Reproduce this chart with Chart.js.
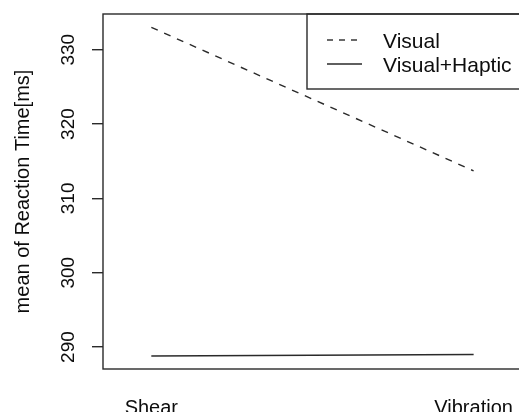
<!DOCTYPE html>
<html>
<head>
<meta charset="utf-8">
<script src="https://cdn.jsdelivr.net/npm/chart.js@4.4.1/dist/chart.umd.min.js"></script>
<style>
  html, body { margin: 0; padding: 0; background: #fff; overflow: hidden; }
  #wrap { width: 519px; height: 412px; overflow: hidden; position: relative; }
  canvas { position: absolute; left: 0; top: 0; }
</style>
</head>
<body>
<div id="wrap"><canvas id="rtChart" width="540" height="412"></canvas></div>
<script>
// data
const categories = ['Shear', 'Vibration'];
const categoryPos = [1, 2];
const visual = [333.0, 313.7];
const visualHaptic = [288.8, 289.0];
const yTicks = [290, 300, 310, 320, 330];
const seriesNames = ['Visual', 'Visual+Haptic'];

const ink = '#2a2a2a';
const textInk = '#0d0d0d';
const fontFamily = "'Liberation Sans', Arial, Helvetica, sans-serif";

const toPoints = (vals) => vals.map((v, i) => ({ x: categoryPos[i], y: v }));

// box around the plot + legend box, like base R
const boxPlugin = {
    id: 'rBox',
    afterDraw(chart) {
        const { ctx, chartArea } = chart;
        ctx.save();
        ctx.strokeStyle = ink;
        ctx.lineWidth = 1.4;
        ctx.strokeRect(chartArea.left, chartArea.top, chartArea.right - chartArea.left, chartArea.bottom - chartArea.top);

        // legend
        const lx = 307, ly = chartArea.top, lh = 75;
        ctx.strokeRect(lx, ly, 300, lh);
        const rows = [ly + 26, ly + 50];
        const dashes = [[6, 6], []];
        ctx.font = '21px ' + fontFamily;
        ctx.textBaseline = 'alphabetic';
        ctx.textAlign = 'left';
        rows.forEach((ry, i) => {
            ctx.beginPath();
            ctx.setLineDash(dashes[i]);
            ctx.moveTo(327, ry);
            ctx.lineTo(362, ry);
            ctx.stroke();
            ctx.setLineDash([]);
            ctx.fillStyle = textInk;
            ctx.fillText(seriesNames[i], 383, ry + 8);
        });
        ctx.restore();
    },
};

const ctx = document.getElementById('rtChart').getContext('2d');
new Chart(ctx, {
    type: 'line',
    data: {
        datasets: [
            {
                label: seriesNames[0],
                data: toPoints(visual),
                borderColor: ink,
                borderWidth: 1.4,
                borderDash: [7, 7],
                pointRadius: 0,
                tension: 0,
                fill: false,
            },
            {
                label: seriesNames[1],
                data: toPoints(visualHaptic),
                borderColor: ink,
                borderWidth: 1.4,
                pointRadius: 0,
                tension: 0,
                fill: false,
            },
        ],
    },
    options: {
        responsive: false,
        devicePixelRatio: 1,
        animation: false,
        layout: { padding: { top: 14, right: 10, left: 0, bottom: 0 } },
        plugins: {
            legend: { display: false },
            tooltip: { enabled: false },
        },
        scales: {
            x: {
                type: 'linear',
                min: 0.85,
                max: 2.175,
                afterBuildTicks: (scale) => {
                    scale.ticks = categoryPos.map((v) => ({ value: v }));
                },
                afterFit: (scale) => {
                    scale.height = 43;
                    scale.paddingLeft = 0;
                    scale.paddingRight = 0;
                },
                grid: { display: false, drawTicks: false },
                border: { display: false },
                ticks: {
                    padding: 27,
                    color: textInk,
                    font: { family: fontFamily, size: 20 },
                    maxRotation: 0,
                    callback: (value) => categories[categoryPos.indexOf(value)],
                },
            },
            y: {
                min: 287.05,
                max: 334.8,
                afterBuildTicks: (scale) => {
                    scale.ticks = yTicks.map((v) => ({ value: v }));
                },
                afterFit: (scale) => {
                    scale.width = 103;
                    scale.paddingTop = 0;
                    scale.paddingBottom = 0;
                },
                grid: {
                    drawOnChartArea: false,
                    drawTicks: true,
                    tickLength: 11,
                    color: ink,
                    lineWidth: 1.4,
                },
                border: { display: false },
                ticks: {
                    minRotation: 90,
                    maxRotation: 90,
                    crossAlign: 'center',
                    padding: 7,
                    color: textInk,
                    font: { family: fontFamily, size: 19 },
                },
                title: {
                    display: true,
                    text: 'mean of Reaction Time[ms]',
                    color: textInk,
                    font: { family: fontFamily, size: 20 },
                    padding: { top: 11, bottom: 0 },
                },
            },
        },
    },
    plugins: [boxPlugin],
});
</script>
</body>
</html>
